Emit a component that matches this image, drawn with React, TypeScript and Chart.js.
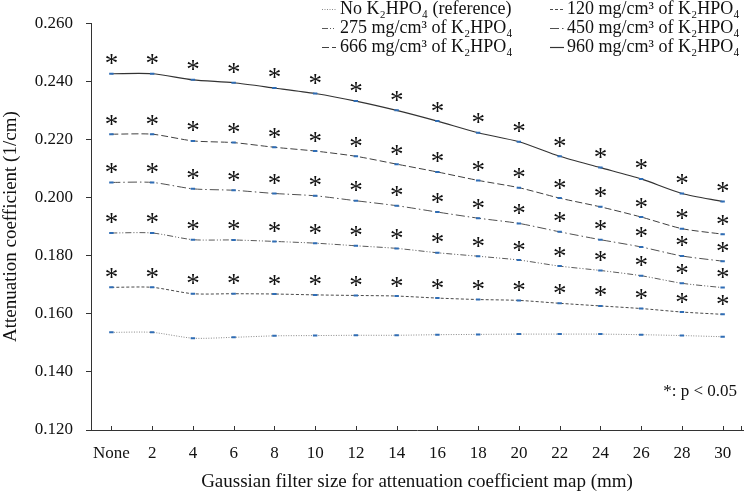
import React, { useEffect, useRef } from "react";
import { Chart, registerables } from "chart.js";

Chart.register(...registerables);

const categories = ["None", "2", "4", "6", "8", "10", "12", "14", "16", "18", "20", "22", "24", "26", "28", "30"];

const refValues = [0.1536, 0.1536, 0.1516, 0.1519, 0.1524, 0.1525, 0.1526, 0.1526, 0.1528, 0.1529, 0.1530, 0.1530, 0.1530, 0.1528, 0.1525, 0.1521];
const k120Values = [0.1691, 0.1691, 0.1669, 0.1669, 0.1668, 0.1665, 0.1663, 0.1661, 0.1654, 0.1649, 0.1646, 0.1636, 0.1627, 0.1618, 0.1606, 0.1598];
const k275Values = [0.1878, 0.1878, 0.1855, 0.1854, 0.1849, 0.1843, 0.1834, 0.1825, 0.1810, 0.1798, 0.1785, 0.1764, 0.1749, 0.1731, 0.1705, 0.1690];
const k450Values = [0.2052, 0.2052, 0.2030, 0.2025, 0.2014, 0.2006, 0.1989, 0.1972, 0.1950, 0.1929, 0.1911, 0.1882, 0.1855, 0.1830, 0.1799, 0.1781];
const k666Values = [0.2218, 0.2218, 0.2195, 0.2189, 0.2173, 0.2160, 0.2142, 0.2115, 0.2088, 0.2059, 0.2034, 0.1998, 0.1968, 0.1933, 0.1893, 0.1874];
const k960Values = [0.2426, 0.2426, 0.2405, 0.2395, 0.2377, 0.2358, 0.2332, 0.2300, 0.2263, 0.2223, 0.2192, 0.2142, 0.2103, 0.2064, 0.2014, 0.1986];

const seriesNames = [
  "No K\u2082HPO\u2084 (reference)",
  "120 mg/cm\u00b3 of K\u2082HPO\u2084",
  "275 mg/cm\u00b3 of K\u2082HPO\u2084",
  "450 mg/cm\u00b3 of K\u2082HPO\u2084",
  "666 mg/cm\u00b3 of K\u2082HPO\u2084",
  "960 mg/cm\u00b3 of K\u2082HPO\u2084",
];
// whether each series is marked significant (*) at every filter size
const significant = [false, true, true, true, true, true];

const yMin = 0.12;
const yMax = 0.26;
const yStep = 0.02;

const xTitle = "Gaussian filter size for attenuation coefficient map (mm)";
const yTitle = "Attenuation coefficient (1/cm)";
const noteText = "*: p < 0.05";

const FONT = "'Liberation Serif', 'Times New Roman', serif";

const lineStyles = [
  { color: "#8a8a8a", dash: [1, 1.5], width: 1 },
  { color: "#4a4a4a", dash: [3, 2], width: 1 },
  { color: "#5a5a5a", dash: [6, 2, 1, 2, 1, 2], width: 1 },
  { color: "#505050", dash: [9, 3, 1.5, 3], width: 1 },
  { color: "#404040", dash: [7, 3], width: 1 },
  { color: "#333333", dash: [], width: 1.2 },
];

const decorPlugin = {
  id: "decor",
  afterDatasetsDraw(chart: any) {
    const ctx = chart.ctx as CanvasRenderingContext2D;
    ctx.save();
    // asterisks above significant points
    ctx.font = `27px ${FONT}`;
    ctx.fillStyle = "#111";
    ctx.textAlign = "center";
    ctx.textBaseline = "alphabetic";
    const m = ctx.measureText("*");
    const half = (m.actualBoundingBoxAscent - m.actualBoundingBoxDescent) / 2;
    significant.forEach((flag, di) => {
      if (!flag) return;
      const meta = chart.getDatasetMeta(di);
      meta.data.forEach((pt: any) => {
        ctx.fillText("*", pt.x, pt.y - 14 + half);
      });
    });
    ctx.restore();
  },
  afterDraw(chart: any) {
    const ctx = chart.ctx as CanvasRenderingContext2D;
    const area = chart.chartArea;
    const xs = chart.scales.x;
    ctx.save();
    // inward tick marks on x axis
    ctx.strokeStyle = "#333";
    ctx.lineWidth = 1;
    ctx.beginPath();
    xs.ticks.forEach((_t: any, i: number) => {
      const x = Math.round(xs.getPixelForTick(i)) + 0.5;
      ctx.moveTo(x, area.bottom);
      ctx.lineTo(x, area.bottom - 4);
    });
    ctx.moveTo(area.right - 1.5, area.bottom);
    ctx.lineTo(area.right - 1.5, area.bottom - 4);
    ctx.stroke();

    // legend (two columns)
    ctx.font = `18px ${FONT}`;
    ctx.fillStyle = "#111";
    ctx.textAlign = "left";
    ctx.textBaseline = "middle";
    const colSample = [322, 550];
    const colText = [340, 567];
    const rowY = [9, 28, 47];
    seriesNames.forEach((name, i) => {
      const col = i % 2;
      const row = Math.floor(i / 2);
      const st = lineStyles[i];
      const y = rowY[row];
      ctx.save();
      ctx.strokeStyle = st.color;
      ctx.lineWidth = st.width;
      ctx.setLineDash(st.dash);
      ctx.beginPath();
      ctx.moveTo(colSample[col], y + 0.5);
      ctx.lineTo(colSample[col] + 14, y + 0.5);
      ctx.stroke();
      ctx.restore();
      ctx.fillText(name, colText[col], y);
    });

    // significance note
    ctx.font = `17px ${FONT}`;
    ctx.textAlign = "right";
    ctx.textBaseline = "alphabetic";
    ctx.fillText(noteText, 737, 396);
    ctx.restore();
  },
};

export default function App() {
  const canvasRef = useRef<HTMLCanvasElement | null>(null);

  useEffect(() => {
    const canvas = canvasRef.current;
    if (!canvas) return;
    const allValues = [refValues, k120Values, k275Values, k450Values, k666Values, k960Values];
    const chart = new Chart(canvas, {
      type: "line",
      data: {
        labels: categories,
        datasets: allValues.map((vals, i) => ({
          label: seriesNames[i],
          data: vals,
          borderColor: lineStyles[i].color,
          borderWidth: lineStyles[i].width,
          borderDash: lineStyles[i].dash,
          fill: false,
          tension: 0.25,
          pointStyle: "line",
          pointRadius: 2.2,
          pointBorderWidth: 2,
          pointBorderColor: "#2f6db5",
          pointBackgroundColor: "#2f6db5",
        })),
      },
      plugins: [decorPlugin],
      options: {
        responsive: false,
        animation: false,
        devicePixelRatio: 1,
        layout: { padding: { top: 15, right: 2, left: 0, bottom: 0 } },
        plugins: {
          legend: { display: false },
          tooltip: { enabled: false },
        },
        scales: {
          x: {
            type: "category",
            offset: true,
            grid: { display: true, drawOnChartArea: false, drawTicks: false },
            border: { display: true, color: "#333", width: 1 },
            ticks: {
              color: "#111",
              padding: 13,
              maxRotation: 0,
              autoSkip: false,
              font: { family: FONT, size: 17 },
            },
            title: {
              display: true,
              text: xTitle,
              color: "#111",
              font: { family: FONT, size: 19 },
              padding: { top: 0, bottom: 2 },
            },
            afterFit(scale: any) {
              scale.height = 65;
            },
          },
          y: {
            min: yMin,
            max: yMax,
            grid: { drawOnChartArea: false, drawTicks: true, tickLength: 5, tickColor: "#333" },
            border: { display: true, color: "#333", width: 1 },
            ticks: {
              stepSize: yStep,
              color: "#111",
              padding: 13,
              font: { family: FONT, size: 17 },
              callback: (v: any) => Number(v).toFixed(3),
            },
            title: {
              display: true,
              text: yTitle,
              color: "#111",
              font: { family: FONT, size: 19 },
              padding: { top: 0, bottom: 0 },
            },
            afterFit(scale: any) {
              scale.width = 91;
            },
          },
        },
      },
    } as any);
    return () => chart.destroy();
  }, []);

  return (
    <div style={{ position: "fixed", left: 0, top: 0, width: 749, height: 495, background: "#fff" }}>
      <canvas ref={canvasRef} width={749} height={495} />
    </div>
  );
}
